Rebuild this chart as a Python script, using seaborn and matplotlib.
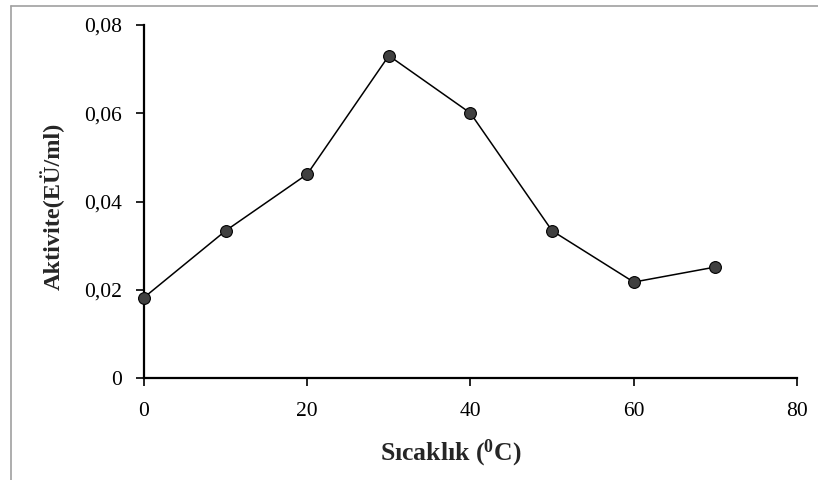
import matplotlib
matplotlib.use("Agg")
import matplotlib.pyplot as plt
import seaborn as sns
import pandas as pd
from matplotlib.ticker import FuncFormatter, MultipleLocator
from matplotlib.lines import Line2D

# Temperature (°C) vs. enzyme activity (EÜ/ml)
sicaklik = [0, 10, 20, 30, 40, 50, 60, 70]
aktivite = [0.0183, 0.0334, 0.0462, 0.0730, 0.0600, 0.0334, 0.0218, 0.0252]

df = pd.DataFrame({"Sicaklik": sicaklik, "Aktivite": aktivite})

sns.set_theme(style="white")
plt.rcParams["font.family"] = ["Liberation Serif", "DejaVu Serif"]
plt.rcParams["mathtext.fontset"] = "custom"
plt.rcParams["mathtext.rm"] = "Liberation Serif"
plt.rcParams["mathtext.bf"] = "Liberation Serif:bold"

fig = plt.figure(figsize=(8.18, 4.8), dpi=100)
ax = fig.add_axes([0.176, 0.2115, 0.7983, 0.737])

sns.lineplot(data=df, x="Sicaklik", y="Aktivite", ax=ax, color="black",
             linewidth=1.1, marker="o", markersize=8.5,
             markerfacecolor="#404040", markeredgecolor="black",
             markeredgewidth=0.8, clip_on=False, zorder=5)

ax.set_xlim(0, 80)
ax.set_ylim(0, 0.08)
ax.xaxis.set_major_locator(MultipleLocator(20))
ax.yaxis.set_major_locator(MultipleLocator(0.02))


def virgul(v, pos):
    if abs(v) < 1e-12:
        return "0"
    return f"{v:.2f}".replace(".", ",")


ax.yaxis.set_major_formatter(FuncFormatter(virgul))
ax.xaxis.set_major_formatter(FuncFormatter(lambda v, p: f"{v:.0f}"))

for side in ("top", "right"):
    ax.spines[side].set_visible(False)
for side in ("left", "bottom"):
    ax.spines[side].set_color("black")
    ax.spines[side].set_linewidth(1.6)

ax.tick_params(axis="both", which="major", direction="out", length=6,
               width=1.2, color="black", labelsize=15.5, labelcolor="black",
               left=True, bottom=True)
ax.tick_params(axis="y", pad=10)
ax.tick_params(axis="x", pad=11)

ax.set_xlabel("")
ax.set_ylabel("")
fig.text(0.551, 0.056, r"Sıcaklık ($\mathbf{^0}$C)", fontsize=18.5,
         fontweight="bold", ha="center", va="center")
fig.text(0.064, 0.571, "Aktivite(EÜ/ml)", fontsize=17.5, fontweight="bold",
         rotation=90, ha="center", va="center")

# light gray chart frame
frame_kw = dict(color="#a0a0a0", linewidth=1.2, transform=fig.transFigure)
fig.add_artist(Line2D([11 / 818, 11 / 818], [0, 1 - 6 / 480], **frame_kw))
fig.add_artist(Line2D([11 / 818, 1], [1 - 6 / 480, 1 - 6 / 480], **frame_kw))

fig.savefig("out.png", dpi=100)
